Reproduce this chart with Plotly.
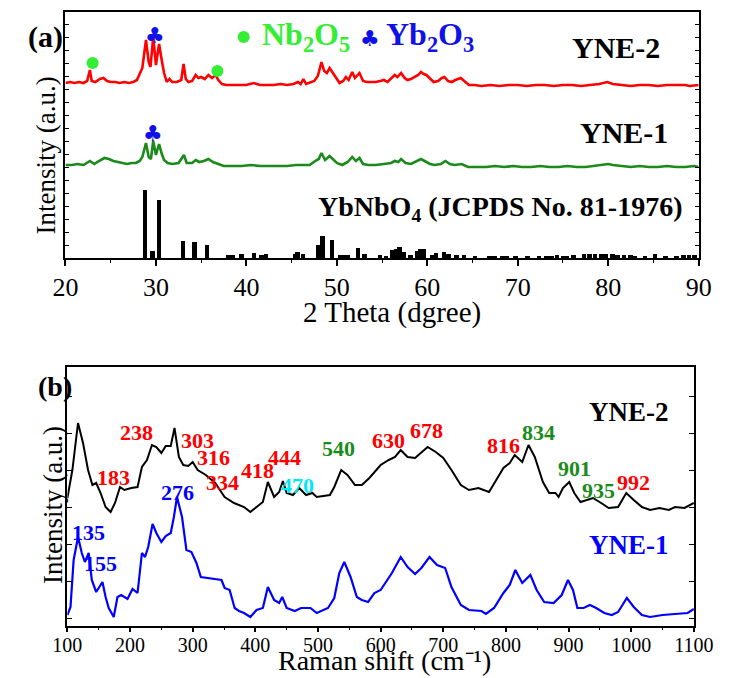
import plotly.graph_objects as go

# ---------------- XRD data (panel a) ----------------
tt_red = [20.0,20.5,21.0,21.5,22.0,22.4,22.7,22.9,23.3,23.8,24.2,24.6,25.0,25.5,26.0,26.5,27.0,27.5,27.9,28.2,28.5,28.9,29.2,29.4,29.7,30.0,30.35,30.6,30.9,31.2,31.5,31.8,32.3,32.8,33.05,33.3,33.6,34.0,34.4,34.7,35.0,35.4,35.8,36.2,36.6,36.9,37.3,37.8,38.5,39.2,40.0,40.8,41.5,42.3,43.0,43.8,44.5,45.2,45.7,46.0,46.3,46.6,47.0,47.5,47.9,48.3,48.6,48.9,49.2,49.5,49.9,50.3,50.7,51.0,51.3,51.7,52.0,52.5,52.9,53.3,53.8,54.3,54.8,55.2,55.6,56.0,56.4,56.7,57.1,57.5,57.8,58.2,58.6,59.0,59.3,59.6,59.9,60.3,60.7,61.2,61.6,61.9,62.3,62.7,63.1,63.7,64.1,64.6,65.2,66.0,67.0,68.0,69.0,70.0,71.0,72.0,73.0,74.0,75.0,76.0,77.0,78.0,79.0,79.9,80.5,81.5,82.5,83.5,84.5,85.5,86.5,87.5,88.5,89.0,90.0]
int_red = [175,176,175,176,175,177,188,177,176,179,180,177,176,176,175,176,175,176,178,184,190,218,196,191,221,193,214,200,185,176,179,176,176,178,194,179,176,177,183,180,181,179,183,180,183,178,174,173,173,173,173,175,173,173,173,174,173,174,176,174,179,174,175,177,182,196,187,185,190,186,180,175,177,181,178,186,180,185,177,176,176,176,177,178,176,180,183,181,185,180,178,179,181,183,186,184,183,179,176,177,180,181,177,176,178,180,177,173,173,172,173,172,173,173,172,173,173,172,173,173,172,173,174,176,174,173,172,173,173,172,173,173,173,172,173]

tt_green = [20.0,20.7,21.3,22.0,22.7,23.2,23.7,24.3,24.8,25.3,25.8,26.3,26.8,27.3,27.8,28.2,28.5,28.9,29.2,29.45,29.7,30.0,30.35,30.65,30.9,31.3,31.8,32.5,33.1,33.4,34.0,34.4,34.8,35.3,35.8,36.3,36.8,37.5,38.5,39.5,40.5,41.5,42.5,43.5,44.5,45.5,46.3,47.0,47.6,48.0,48.3,48.7,49.2,49.6,50.0,50.6,51.2,51.7,52.1,52.5,52.9,53.5,54.3,55.2,56.0,56.4,56.8,57.1,57.6,58.2,58.7,59.3,59.7,60.3,60.8,61.5,62.0,62.5,63.0,63.8,64.5,65.5,66.5,67.5,68.5,69.5,70.5,71.5,72.5,73.5,74.5,75.5,76.5,77.5,78.5,79.5,80.0,80.5,81.5,82.5,83.5,84.5,85.5,86.5,87.5,88.5,89.5,90.0]
int_green = [93,93,94,93,97,94,97,100,99,97,96,95,94,95,95,97,101,115,101,99,117,103,114,104,98,95,94,95,103,95,95,98,96,97,99,96,94,92,92,92,93,92,92,92,92,93,93,93,97,99,105,98,102,98,95,93,96,101,97,100,94,93,93,94,95,97,96,99,95,94,96,99,97,94,93,94,97,94,93,94,91,91,91,92,91,92,91,91,92,91,91,92,91,91,92,93,94,93,92,91,92,91,91,92,91,91,92,91]

ref_pos = [28.85,29.65,30.4,33.05,34.3,35.7,38.1,38.5,39.5,40.9,41.7,42.2,45.4,45.7,46.3,48.0,48.45,49.5,50.4,50.9,51.3,52.4,53.1,54.8,55.5,56.2,56.6,57.0,57.4,58.2,58.9,59.3,59.7,60.6,61.0,61.9,62.4,63.3,64.1,65.3,66.9,67.5,68.3,68.8,69.8,71.1,72.4,73.2,73.8,74.4,75.1,75.5,76.2,77.4,78.0,78.6,79.3,79.8,80.5,81.1,81.8,82.5,83.0,84.1,85.2,86.4,87.6,88.4,89.0,89.6]
ref_int = [68,7,58,17,16,13,3,3,4,5,3,4,4,6,4,13,22,18,3,3,3,10,4,3,2,8,9,11,6,3,7,9,9,3,5,6,4,3,3,2,2,2,2,2,2,2,2,2,2,3,2,2,3,4,4,4,4,4,4,3,3,3,2,2,4,2,2,3,3,3]

nb2o5_x = [23.0, 36.8]
nb2o5_y = [195, 187]
yb2o3_x = [29.9, 29.7]
yb2o3_y = [223, 125]

# ---------------- Raman data (panel b) ----------------
rs_black = [100,108,117,125,133,140,146,153,161,169,176,184,191,202,212,219,227,235,242,250,257,265,271,278,285,293,300,308,321,336,351,366,382,392,402,412,420,430,438,444,450,460,470,481,491,498,519,526,537,547,559,570,582,600,613,623,632,643,655,665,675,688,700,713,728,741,756,773,783,796,806,814,826,836,846,859,869,879,884,891,901,909,919,929,939,952,964,979,992,1004,1017,1030,1045,1060,1070,1085,1100]
int_black = [128,156,203,183,156,141,143,133,119,114,123,139,136,138,139,159,166,181,179,173,180,180,198,169,161,160,164,156,151,143,129,123,119,114,119,124,144,129,134,145,133,131,138,131,133,129,131,139,156,151,141,141,148,161,166,169,176,169,168,174,179,174,168,156,141,136,138,134,144,158,163,171,164,181,169,144,133,133,129,138,144,133,124,126,128,123,118,119,133,126,119,116,118,116,119,118,123]

rs_blue = [100,105,110,117,123,128,134,139,146,151,156,161,166,174,180,186,196,204,212,219,224,229,236,242,250,257,265,270,275,283,290,298,306,313,323,346,351,359,367,374,382,392,402,412,420,430,438,443,450,463,473,488,498,516,526,534,542,552,562,570,580,590,600,608,618,632,643,655,665,678,690,703,713,728,741,761,768,781,796,806,815,826,839,849,861,876,889,899,907,914,924,934,944,957,969,979,993,1004,1017,1030,1050,1070,1090,1100]
int_blue = [11,19,66,89,73,64,73,46,34,39,44,29,18,9,29,31,27,37,33,73,69,79,102,93,84,90,93,109,129,109,76,74,63,49,48,46,38,36,18,15,13,9,16,18,39,26,23,29,18,15,18,18,13,18,28,53,64,49,29,26,24,33,36,43,53,69,59,52,58,69,61,58,39,21,16,15,12,18,33,41,56,43,51,36,24,23,31,46,36,18,18,21,18,13,11,14,28,19,11,9,11,12,13,17]

# Raman peak labels: (text, x, y, colour key)
ram_lbl_text = ["183","238","303","316","334","418","444","470","540","630","678","816","834","901","935","992","276","135","155"]
ram_lbl_x = [173,211,308,334,348,404,446,468,532,612,673,796,852,910,948,1004,275,133,153]
ram_lbl_y = [149,194,186,169,144,156,169,141,178,186,196,181,194,158,136,144,134,94,63]
ram_lbl_col = ["r","r","r","r","r","r","r","c","g","r","r","r","g","g","g","r","b","b","b"]

SERIF = "Liberation Serif, Times New Roman, serif"
RED = "#ff0000"
GRN = "#1b8a1b"
BLU = "#0000ff"
LGRN = "#33ee33"
CYAN = "#00e8f0"
colmap = {"r": RED, "g": "#1a8c1a", "b": BLU, "c": CYAN}

W, H = 732, 678
fig = go.Figure()

# Panel a
fig.add_trace(go.Bar(x=ref_pos, y=ref_int, width=0.5, marker=dict(color="black", line=dict(width=0)),
                     xaxis="x", yaxis="y", showlegend=False))
fig.add_trace(go.Scatter(x=tt_green, y=int_green, mode="lines", line=dict(color=GRN, width=2.6),
                         xaxis="x", yaxis="y", showlegend=False))
fig.add_trace(go.Scatter(x=tt_red, y=int_red, mode="lines", line=dict(color=RED, width=2.6),
                         xaxis="x", yaxis="y", showlegend=False))
fig.add_trace(go.Scatter(x=nb2o5_x, y=nb2o5_y, mode="markers", marker=dict(color=LGRN, size=12),
                         xaxis="x", yaxis="y", showlegend=False))
fig.add_trace(go.Scatter(x=[39.7], y=[221], mode="markers", marker=dict(color=LGRN, size=12),
                         xaxis="x", yaxis="y", showlegend=False))
# tick-only overlay axes
fig.add_trace(go.Scatter(x=[20], y=[0], mode="markers", marker=dict(opacity=0), xaxis="x3", yaxis="y",
                         showlegend=False, hoverinfo="skip"))
fig.add_trace(go.Scatter(x=[100], y=[0], mode="markers", marker=dict(opacity=0), xaxis="x4", yaxis="y2",
                         showlegend=False, hoverinfo="skip"))

# Panel b
fig.add_trace(go.Scatter(x=rs_black, y=int_black, mode="lines", line=dict(color="black", width=2),
                         xaxis="x2", yaxis="y2", showlegend=False))
fig.add_trace(go.Scatter(x=rs_blue, y=int_blue, mode="lines", line=dict(color=BLU, width=2.2),
                         xaxis="x2", yaxis="y2", showlegend=False))

ann = []
def A(text, x, y, xref, yref, size, color="black", bold=True, xanchor="center", yanchor="middle", angle=0, family=SERIF):
    t = f"<b>{text}</b>" if bold else text
    ann.append(dict(text=t, x=x, y=y, xref=xref, yref=yref, showarrow=False,
                    font=dict(family=family, size=size, color=color),
                    xanchor=xanchor, yanchor=yanchor, textangle=angle))

# panel a annotations
for cx, cy in zip(yb2o3_x, yb2o3_y):
    A("♣", cx, cy, "x", "y", 22, color="#1010e8", bold=False, family="DejaVu Sans")
A("Nb<sub>2</sub>O<sub>5</sub>", 41.5, 222, "x", "y", 32, color=LGRN, xanchor="left")
A("♣", 53.7, 220, "x", "y", 22, color="#1010e8", bold=False, family="DejaVu Sans")
A("Yb<sub>2</sub>O<sub>3</sub>", 55.2, 222, "x", "y", 32, color="#1010e8", xanchor="left")
A("YNE-2", 80.9, 211, "x", "y", 30)
A("YNE-1", 81.8, 126, "x", "y", 30)
A("YbNbO<sub>4</sub> (JCPDS No. 81-1976)", 68.0, 50, "x", "y", 28)
A("(a)", 32 / W, 1 - 37 / H, "paper", "paper", 30)
A("Intensity (a.u.)", 33 / W, 1 - 155 / H, "paper", "paper", 27, bold=False, angle=-90)
A("2 Theta (dgree)", 396 / W, 1 - 312 / H, "paper", "paper", 29, bold=False)

# panel b annotations
for t, x, y, c in zip(ram_lbl_text, ram_lbl_x, ram_lbl_y, ram_lbl_col):
    A(t, x, y, "x2", "y2", 22, color=colmap[c])
A("YNE-2", 997, 214, "x2", "y2", 27)
A("YNE-1", 997, 81, "x2", "y2", 27, color=BLU)
A("(b)", 42 / W, 1 - 386 / H, "paper", "paper", 28)
A("Intensity (a.u.)", 40 / W, 1 - 505 / H, "paper", "paper", 27, bold=False, angle=-90)
A("Raman shift (cm⁻¹)", 388 / W, 0.0, "paper", "paper", 28, bold=False, yanchor="bottom")

axis_common = dict(showline=True, linecolor="black", linewidth=1.5, mirror=True, showgrid=False, zeroline=False)
xa_dom = [53 / W, 718 / W]
xb_dom = [55 / W, 713 / W]

fig.update_layout(
    width=W, height=H, margin=dict(l=0, r=0, t=0, b=0),
    paper_bgcolor="white", plot_bgcolor="white",
    bargap=0, annotations=ann,
    xaxis=dict(domain=xa_dom, range=[20, 90], anchor="y", dtick=10, tick0=20, ticks="",
               ticklabelstandoff=5,
               tickfont=dict(family=SERIF, size=26, color="black"), **axis_common),
    xaxis3=dict(domain=xa_dom, range=[20, 90], anchor="y", overlaying="x", dtick=10, tick0=20,
                showticklabels=False, showline=False, showgrid=False, zeroline=False,
                ticks="outside", ticklen=7, tickwidth=1.5, tickcolor="black",
                minor=dict(dtick=5, ticks="outside", ticklen=4, tickcolor="black", tickwidth=1.2)),
    yaxis=dict(domain=[1 - 258 / H, 1 - 12 / H], range=[0, 246], anchor="x", showticklabels=False,
               ticks="inside", ticklen=4, tickwidth=1, tickcolor="black", dtick=13, tick0=0,
               **{**axis_common, "mirror": "ticks"}),
    xaxis2=dict(domain=xb_dom, range=[100, 1100], anchor="y2", dtick=100, tick0=100, ticks="",
                tickfont=dict(family=SERIF, size=20, color="black"), **axis_common),
    xaxis4=dict(domain=xb_dom, range=[100, 1100], anchor="y2", overlaying="x2", dtick=100, tick0=100,
                showticklabels=False, showline=False, showgrid=False, zeroline=False,
                ticks="outside", ticklen=5, tickwidth=1.5, tickcolor="black",
                minor=dict(dtick=50, ticks="outside", ticklen=3, tickcolor="black", tickwidth=1.2)),
    yaxis2=dict(domain=[1 - 626 / H, 1 - 367 / H], range=[0, 259], anchor="x2", showticklabels=False,
                ticks="inside", ticklen=5, tickwidth=1, tickcolor="black", dtick=37, tick0=8,
                **{**axis_common, "mirror": "ticks"}),
)

fig.write_html("out.html")
